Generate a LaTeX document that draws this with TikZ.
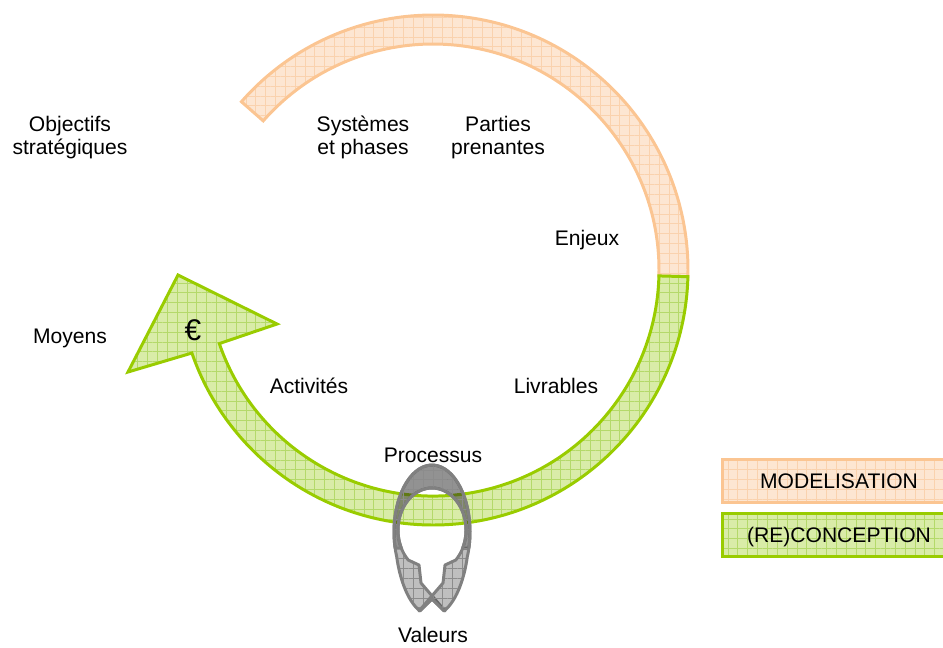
\documentclass[tikz,border=0pt]{standalone}
\usepackage{fontspec}
\setmainfont{Liberation Sans}
\usetikzlibrary{calc,patterns.meta}
\definecolor{orangeline}{HTML}{FBC592}
\definecolor{orangefill}{HTML}{FDE6D2}
\definecolor{orangegrid}{HTML}{FAD2AE}
\definecolor{greenline}{HTML}{99CC00}
\definecolor{greenfill}{HTML}{D9ECA8}
\definecolor{greengrid}{HTML}{B4D96A}
\definecolor{loopline}{HTML}{808080}
\begin{document}
\begin{tikzpicture}[x=0.02cm,y=-0.02cm,
  grid fill/.style={pattern={Hatch[angle=0,distance=5.6pt,line width=.5pt]}},
  orange part/.style={preaction={fill=orangefill},grid fill,pattern color=orangegrid,
    draw=orangeline,line width=1.7pt,line join=miter},
  green part/.style={preaction={fill=greenfill},grid fill,pattern color=greengrid,
    draw=greenline,line width=1.7pt,line join=miter},
  loop part/.style={preaction={fill=black!83,fill opacity=.3},
    pattern={Hatch[angle=0,distance=5.6pt,line width=.35pt]},pattern color=black!45,
    fill opacity=.25,draw=loopline,draw opacity=1,line width=1.7pt,line join=round},
  label text/.style={font=\fontsize{12}{13}\selectfont,inner sep=0pt,align=center,anchor=base}]

  \useasboundingbox (0,0) rectangle (943,647);
  \clip (0,0) rectangle (943,647);

  \coordinate (C) at (433,270);

  % cycle
  \draw[orange part] ($(C)+(-138.7:255)$) arc[start angle=-138.7,end angle=1.5,radius=255]
    -- ($(C)+(1.5:226)$) arc[start angle=1.5,end angle=-138.7,radius=226] -- cycle;
  \draw[green part] ($(C)+(1.5:255)$) arc[start angle=1.5,end angle=161,radius=255]
    -- (128,372) -- (178,275) -- (277,324)
    -- ($(C)+(161:226)$) arc[start angle=161,end angle=1.5,radius=226] -- cycle;

  % loop
  \draw[loop part] (468.9,548) arc[start angle=13.8,end angle=-202,x radius=38,y radius=67]
    .. controls (399,574) and (406,600) .. (420,611) -- (432,599) -- (445,611)
    -- (421,583) -- (419,565)
    -- (408.2,560) arc[start angle=134.4,end angle=385.4,x radius=34,y radius=42] -- cycle;
  \draw[loop part] (395.1,548) arc[start angle=166.2,end angle=382,x radius=38,y radius=67]
    .. controls (465,574) and (458,600) .. (444,611) -- (432,599) -- (419,611)
    -- (443,583) -- (445,565)
    -- (455.8,560) arc[start angle=45.6,end angle=-205.4,x radius=34,y radius=42] -- cycle;

  \node[label text] (objectifs) at (70,154) {Objectifs\\stratégiques};
  \node[label text] (systemes) at (363,154) {Systèmes\\et phases};
  \node[label text] (parties) at (498,154) {Parties\\prenantes};
  \node[label text] (enjeux) at (587,245) {Enjeux};
  \node[label text] (moyens) at (70,343) {Moyens};
  \node[label text,font=\fontsize{17}{18}\selectfont] (euro) at (193,340) {€};
  \node[label text] (activites) at (309,393) {Activités};
  \node[label text] (livrables) at (556,393) {Livrables};
  \node[label text] (processus) at (433,462) {Processus};
  \node[label text] (valeurs) at (433,642) {Valeurs};

  % legend
  \node[orange part,minimum width=4.68cm,minimum height=0.86cm,text height=8.6pt,text depth=0pt,
    font=\fontsize{12}{13}\selectfont] (modelisation) at (839,480.5) {MODELISATION};
  \node[green part,minimum width=4.68cm,minimum height=0.86cm,text height=8.6pt,text depth=0pt,
    font=\fontsize{12}{13}\selectfont] (conception) at (839,535) {(RE)CONCEPTION};
\end{tikzpicture}
\end{document}
